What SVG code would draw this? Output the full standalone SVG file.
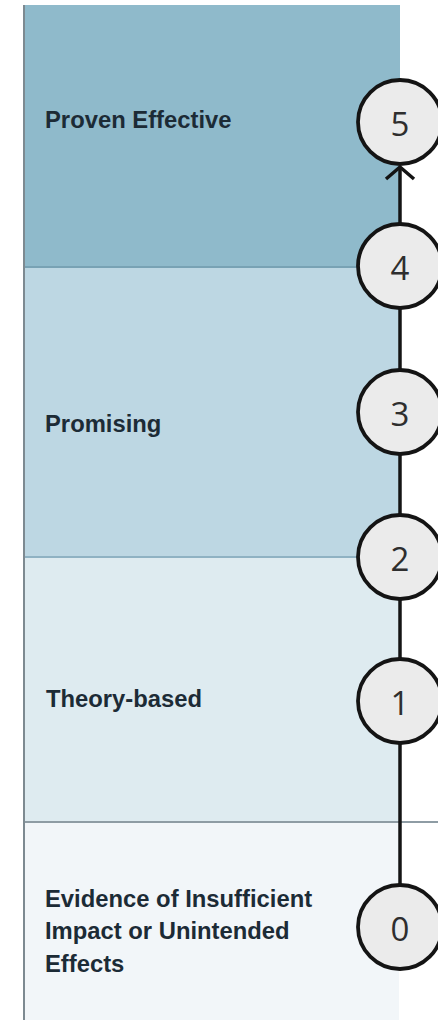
<svg xmlns="http://www.w3.org/2000/svg" width="438" height="1020" viewBox="0 0 438 1020">
<style>
.lbl{font-family:"Liberation Sans",Arial,sans-serif;font-weight:bold;font-size:23.8px;fill:#1c2b36}
.num{font-family:"Open Sans","Liberation Sans",sans-serif;font-size:33px;fill:#2e2e2e;text-anchor:middle}
.node circle{fill:#ebebeb;stroke:#141414;stroke-width:3.8}
.sep{stroke-width:2}
</style>
<defs>
<marker id="chev" markerUnits="userSpaceOnUse" markerWidth="40" markerHeight="40" refX="0" refY="0" orient="auto" overflow="visible">
<path d="M-12,-14 L0,0 L-12,14" fill="none" stroke="#141414" stroke-width="3.5" stroke-linejoin="miter"/>
</marker>
</defs>
<rect width="438" height="1020" fill="#fff"/>
<g id="bands">
<rect x="24" y="5" width="376" height="263" fill="#8fbacb"/>
<rect x="24" y="268" width="376" height="290" fill="#bdd7e3"/>
<rect x="24" y="558" width="376" height="265" fill="#deebf0"/>
<rect x="24" y="823" width="375" height="197" fill="#f2f6f9"/>
<line class="sep" x1="24" y1="267" x2="400" y2="267" stroke="#78a2b4"/>
<line class="sep" x1="24" y1="557" x2="400" y2="557" stroke="#8fb2c3"/>
<line class="sep" x1="24" y1="822" x2="438" y2="822" stroke="#8e9ca4"/>
<line x1="24" y1="5" x2="24" y2="1020" stroke="#7d8a91" stroke-width="2"/>
</g>
<g id="labels">
<text class="lbl" x="45" y="128">Proven Effective</text>
<text class="lbl" x="45" y="432">Promising</text>
<text class="lbl" x="46" y="707">Theory-based</text>
<text class="lbl" x="45" y="907">Evidence of Insufficient</text>
<text class="lbl" x="45" y="939">Impact or Unintended</text>
<text class="lbl" x="45" y="972">Effects</text>
</g>
<g id="connectors">
<path d="M400,884 V167" fill="none" stroke="#141414" stroke-width="3.5" marker-end="url(#chev)"/>
</g>
<g id="node5" class="node"><circle cx="400" cy="122" r="42"/><text class="num" x="400" y="136">5</text></g>
<g id="node4" class="node"><circle cx="400" cy="266" r="42"/><text class="num" x="400" y="280">4</text></g>
<g id="node3" class="node"><circle cx="400" cy="412" r="42"/><text class="num" x="400" y="426">3</text></g>
<g id="node2" class="node"><circle cx="400" cy="557" r="42"/><text class="num" x="400" y="571">2</text></g>
<g id="node1" class="node"><circle cx="400" cy="701" r="42"/><text class="num" x="400" y="715">1</text></g>
<g id="node0" class="node"><circle cx="400" cy="927" r="42"/><text class="num" x="400" y="941">0</text></g>
</svg>
